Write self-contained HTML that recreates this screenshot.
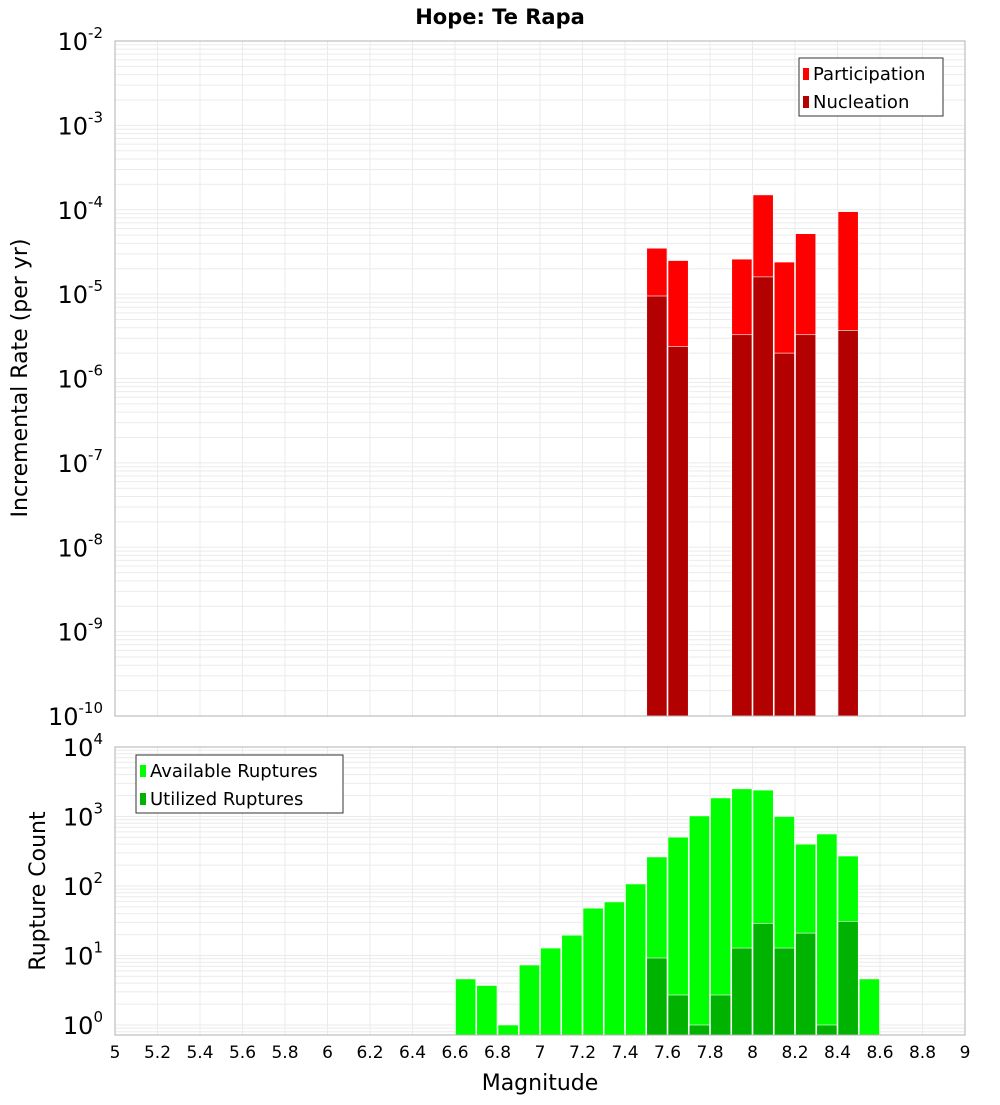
<!DOCTYPE html>
<html><head><meta charset="utf-8"><style>
body{margin:0;background:#fff;font-family:"Liberation Sans","DejaVu Sans",sans-serif}
svg text{font-family:"DejaVu Sans","Liberation Sans",sans-serif}
</style></head><body>
<svg id="c" width="1000" height="1100" xmlns="http://www.w3.org/2000/svg">
<text x="500" y="24" text-anchor="middle" font-size="21" font-weight="bold">Hope: Te Rapa</text>
<text transform="translate(27,378) rotate(-90)" text-anchor="middle" font-size="22">Incremental Rate (per yr)</text>
<text transform="translate(45,891) rotate(-90)" text-anchor="middle" font-size="22">Rupture Count</text>
<text x="540" y="1090" text-anchor="middle" font-size="22">Magnitude</text>
</svg>
<script>
const topMags=[7.5,7.6,7.9,8.0,8.1,8.2,8.4];
const participation=[3.5e-5,2.5e-5,2.6e-5,1.5e-4,2.4e-5,5.2e-5,9.5e-5];
const nucleation=[9.5e-6,2.4e-6,3.3e-6,1.6e-5,2.0e-6,3.3e-6,3.7e-6];
const botMags=[6.6,6.7,6.8,6.9,7.0,7.1,7.2,7.3,7.4,7.5,7.6,7.7,7.8,7.9,8.0,8.1,8.2,8.3,8.4,8.5];
const available=[4.6,3.7,1,7.3,12.8,19.6,48,59,107,262,505,1020,1850,2500,2400,1000,400,560,270,4.6];
const utilMags=[7.5,7.6,7.7,7.8,7.9,8.0,8.1,8.2,8.3,8.4];
const utilized=[9.2,2.7,1,2.7,12.8,29,12.8,21,1,31];
const xTicks=[5,5.2,5.4,5.6,5.8,6,6.2,6.4,6.6,6.8,7,7.2,7.4,7.6,7.8,8,8.2,8.4,8.6,8.8,9];
const topExps=[-2,-3,-4,-5,-6,-7,-8,-9,-10];
const botExps=[4,3,2,1,0];
const svg=document.getElementById('c');const NS='http://www.w3.org/2000/svg';
function mk(t,a,p){const e=document.createElementNS(NS,t);for(const k in a)e.setAttribute(k,a[k]);(p||svg).appendChild(e);return e;}
const X0=115,X1=965;const x=m=>X0+(m-5)/4*(X1-X0);
const T0=41,T1=716;const yT=v=>T0+(-2-Math.log10(v))*(T1-T0)/8;
const B0=747,B1=1035,bDec=69.5;const yB=v=>1025-bDec*Math.log10(v);
function grid(y0,y1,yf,eLo,eHi){
 const g=mk('g',{});
 
 
 for(let e=eLo;e<=eHi;e++)for(let k=1;k<10;k++){const yy=yf(k*Math.pow(10,e));if(yy>=y0&&yy<=y1)mk('line',{x1:X0,x2:X1,y1:yy,y2:yy,stroke:'#ebebeb','stroke-width':1},g);}
 xTicks.forEach(t=>mk('line',{x1:x(t),x2:x(t),y1:y0,y2:y1,stroke:'#ebebeb','stroke-width':1},g));
}
grid(T0,T1,yT,-10,-3);grid(B0,B1,yB,-1,3);
function bar(m,v,yf,yb,fill,name){const r=mk('rect',{x:x(m)+0.5,y:yf(v),width:x(m+0.1)-x(m)-1,height:yb-yf(v),fill:fill,stroke:'#fff','stroke-width':0.6});
 }
topMags.forEach((m,i)=>bar(m,participation[i],yT,T1,'#ff0000','participation-bar'));
topMags.forEach((m,i)=>bar(m,nucleation[i],yT,T1,'#b30000','nucleation-bar'));
botMags.forEach((m,i)=>bar(m,available[i],yB,B1,'#00ff00','available-bar'));
utilMags.forEach((m,i)=>bar(m,utilized[i],yB,B1,'#00b300','utilized-bar'));
mk('rect',{x:X0,y:T0,width:X1-X0,height:T1-T0,fill:'none',stroke:'#b0b0b0'});
mk('rect',{x:X0,y:B0,width:X1-X0,height:B1-B0,fill:'none',stroke:'#b0b0b0'});
function tl(xx,yy,e,fs){const t=mk('text',{x:xx,y:yy,'text-anchor':'end','font-size':fs});
 
 t.appendChild(document.createTextNode('10'));const s=mk('tspan',{dy:-12,'font-size':15},t);s.textContent=e;}
topExps.forEach(e=>tl(e>=-9?103:103,yT(Math.pow(10,e))+9,e,24));
botExps.forEach(e=>tl(103,1025-bDec*e+9,e,24));
xTicks.forEach(t=>{const tx=mk('text',{x:x(t),y:1058,'text-anchor':'middle','font-size':17});
 tx.textContent=String(t);});
function legend(lx,ly,w,items){const g=mk('g',{});
 mk('rect',{x:lx,y:ly,width:w,height:58,fill:'#fff',stroke:'#333'},g);
 items.forEach((it,i)=>{mk('rect',{x:lx+4,y:ly+10+i*28,width:6,height:12,fill:it[1]},g);
 const t=mk('text',{x:lx+14,y:ly+22+i*28,'font-size':18},g);t.textContent=it[0];});}
legend(799,58,144,[['Participation','#ff0000'],['Nucleation','#b30000']]);
legend(136,755,207,[['Available Ruptures','#00ff00'],['Utilized Ruptures','#00b300']]);
</script>
</body></html>
